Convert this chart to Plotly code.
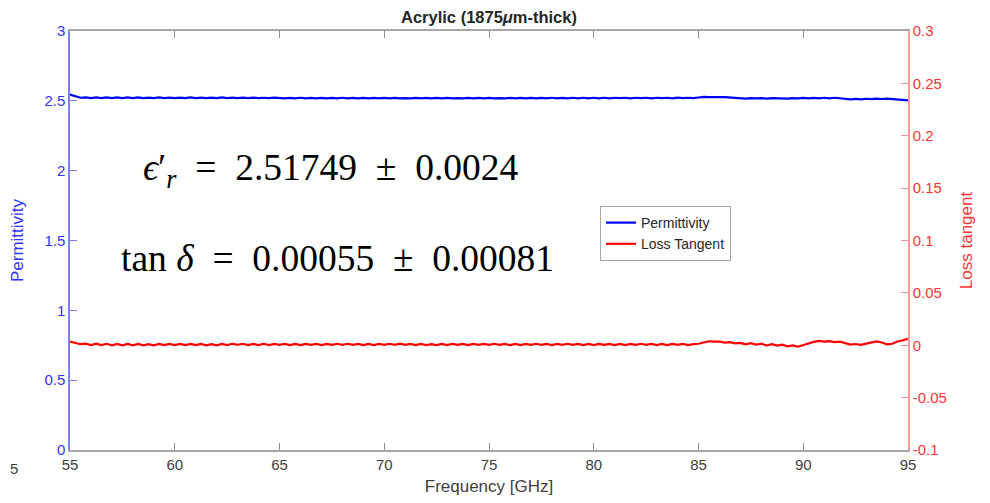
import plotly.graph_objects as go

# ---- data ----
freq_start = 55.0
freq_step = 0.25

permittivity = [
    2.545, 2.532, 2.522,
    # 55.75 .. 64.75
    2.525, 2.520, 2.524, 2.519, 2.525, 2.520, 2.524, 2.520, 2.524, 2.519,
    2.524, 2.520, 2.523, 2.519, 2.524, 2.520, 2.523, 2.519, 2.523, 2.520,
    2.524, 2.519, 2.523, 2.520, 2.523, 2.519, 2.524, 2.520, 2.523, 2.519,
    2.523, 2.520, 2.523, 2.519, 2.522, 2.519, 2.523,
    # 65.0 .. 84.75
    2.521, 2.517, 2.521, 2.518, 2.522, 2.517, 2.521, 2.517, 2.521, 2.518,
    2.521, 2.517, 2.522, 2.517, 2.521, 2.518, 2.521, 2.517, 2.521, 2.517,
    2.521, 2.518, 2.521, 2.517, 2.520, 2.517, 2.521, 2.517, 2.521, 2.518,
    2.521, 2.517, 2.521, 2.517, 2.520, 2.517, 2.521, 2.518, 2.521, 2.517,
    2.521, 2.517, 2.520, 2.517, 2.521, 2.518, 2.521, 2.517, 2.521, 2.517,
    2.521, 2.518, 2.522, 2.517, 2.521, 2.518, 2.522, 2.518, 2.522, 2.518,
    2.522, 2.518, 2.522, 2.518, 2.522, 2.519, 2.522, 2.518, 2.522, 2.519,
    2.522, 2.518, 2.522, 2.519, 2.522, 2.518, 2.523, 2.519, 2.522, 2.519,
    # 85.0 .. 86.75
    2.524, 2.528, 2.526, 2.529, 2.527, 2.526, 2.524, 2.522,
    # 87.0 .. 90.75
    2.520, 2.516, 2.520, 2.517, 2.520, 2.516, 2.520, 2.517,
    2.519, 2.516, 2.520, 2.517, 2.521, 2.517, 2.521, 2.518,
    # 91.0 .. 91.75
    2.522, 2.518, 2.522, 2.519,
    # 92.0 .. 93.75
    2.514, 2.511, 2.514, 2.511, 2.515, 2.512, 2.516, 2.513,
    # 94.0 .. 95.0
    2.516, 2.513, 2.514, 2.508, 2.503,
]

loss_tangent = [
    0.0035, 0.0021, 0.0010,
    # 55.75 .. 64.75
    0.0016, 0.0002, 0.0015, 0.0001, 0.0014, 0.0000, 0.0013, 0.0000, 0.0012, -0.0001,
    0.0012, 0.0000, 0.0011, 0.0000, 0.0012, 0.0001, 0.0012, 0.0001, 0.0013, 0.0002,
    0.0013, 0.0001, 0.0012, 0.0000, 0.0011, 0.0000, 0.0012, 0.0002, 0.0014, 0.0003,
    0.0014, 0.0002, 0.0013, 0.0002, 0.0014, 0.0002, 0.0013,
    # 65.0 .. 84.75
    0.0003, 0.0013, 0.0002, 0.0012, 0.0002, 0.0013, 0.0003, 0.0013, 0.0002, 0.0012,
    0.0003, 0.0014, 0.0004, 0.0014, 0.0003, 0.0013, 0.0002, 0.0012, 0.0002, 0.0013,
    0.0003, 0.0014, 0.0004, 0.0015, 0.0004, 0.0013, 0.0002, 0.0012, 0.0001, 0.0011,
    0.0002, 0.0012, 0.0002, 0.0013, 0.0003, 0.0013, 0.0002, 0.0012, 0.0003, 0.0013,
    0.0003, 0.0014, 0.0003, 0.0013, 0.0002, 0.0012, 0.0002, 0.0013, 0.0003, 0.0014,
    0.0003, 0.0013, 0.0002, 0.0013, 0.0003, 0.0014, 0.0003, 0.0013, 0.0002, 0.0012,
    0.0002, 0.0013, 0.0003, 0.0013, 0.0002, 0.0012, 0.0002, 0.0013, 0.0003, 0.0014,
    0.0003, 0.0013, 0.0002, 0.0012, 0.0002, 0.0013, 0.0003, 0.0013, 0.0002, 0.0011,
    # 85.0 .. 86.75
    0.0014, 0.0026, 0.0038, 0.0034, 0.0036, 0.0026, 0.0029, 0.0018,
    # 87.0 .. 90.75
    0.0022, 0.0008, 0.0020, 0.0006, 0.0014, -0.0002, 0.0010, -0.0004,
    0.0006, -0.0010, -0.0002, -0.0014, 0.0002, 0.0014, 0.0032, 0.0042,
    # 91.0 .. 91.75
    0.0034, 0.0040, 0.0030, 0.0034,
    # 92.0 .. 93.75
    0.0020, 0.0006, 0.0012, 0.0004, 0.0016, 0.0024, 0.0036, 0.0026,
    # 94.0 .. 95.0
    0.0008, 0.0014, 0.0036, 0.0048, 0.0062,
]

frequency = [freq_start + freq_step * i for i in range(len(permittivity))]

x_ticks = [55, 60, 65, 70, 75, 80, 85, 90, 95]
left_ticks = [0, 0.5, 1, 1.5, 2, 2.5, 3]
left_ticklabels = ["0", "0.5", "1", "1.5", "2", "2.5", "3"]
right_ticks = [-0.1, -0.05, 0, 0.05, 0.1, 0.15, 0.2, 0.25, 0.3]
right_ticklabels = ["-0.1", "-0.05", "0", "0.05", "0.1", "0.15", "0.2", "0.25", "0.3"]

BLUE = "#0000ff"
RED = "#ff0000"
AXFONT = "Liberation Sans, Arial, sans-serif"

fig = go.Figure()
fig.add_trace(go.Scatter(x=frequency, y=permittivity, mode="lines",
                         name="Permittivity", line=dict(color=BLUE, width=2.2)))
fig.add_trace(go.Scatter(x=frequency, y=loss_tangent, mode="lines",
                         name="Loss Tangent", line=dict(color=RED, width=2.2),
                         yaxis="y2"))

fig.update_layout(
    width=990, height=503,
    margin=dict(l=62, r=90, t=23, b=61),
    paper_bgcolor="white", plot_bgcolor="white",
    font=dict(family=AXFONT, size=14, color="#404040"),
    title=dict(text="<b>Acrylic (1875<i>μ</i>m-thick)</b>",
               x=481 / 990, xanchor="center", y=1 - 9 / 503, yanchor="middle",
               font=dict(size=16.5, color="#262626", family=AXFONT)),
    xaxis=dict(range=[55, 95], tickvals=x_ticks, ticks="inside", ticklen=7,
               tickcolor="#8c8c8c", showline=True, linecolor="#a6a6a6", linewidth=1.5,
               mirror="ticks", showgrid=False, zeroline=False, automargin=False,
               tickfont=dict(size=15, color="#404040"),
               title=dict(text="Frequency [GHz]", standoff=8,
                          font=dict(size=17, color="#404040"))),
    yaxis=dict(range=[0, 3], tickvals=left_ticks, ticktext=left_ticklabels,
               ticks="inside", ticklen=7, tickcolor="#7b7bff",
               showline=True, linecolor="#8080ff", linewidth=1.5,
               showgrid=False, zeroline=False, automargin=False,
               tickfont=dict(size=15, color="#3333ff"),
               title=dict(text="Permittivity", standoff=17,
                          font=dict(size=17, color="#3333ff"))),
    yaxis2=dict(range=[-0.1, 0.3], tickvals=right_ticks, ticktext=right_ticklabels,
                overlaying="y", side="right",
                ticks="inside", ticklen=7, tickcolor="#ff8c8c",
                showline=True, linecolor="#ff9999", linewidth=1.5,
                showgrid=False, zeroline=False, automargin=False,
                tickfont=dict(size=15, color="#ff3333"),
                title=dict(text="Loss tangent", standoff=14,
                           font=dict(size=17, color="#ff3333"))),
    legend=dict(x=(600 - 70) / 838, y=(450 - 206) / 419, xanchor="left", yanchor="top",
                bgcolor="white", bordercolor="#a6a6a6", borderwidth=1,
                font=dict(size=14, color="#262626", family=AXFONT),
                tracegroupgap=0, itemwidth=30),
    showlegend=True,
)

SP = "\u2002"
eq_font = dict(family="Liberation Serif, DejaVu Serif, serif", size=37.5, color="#000000")
fig.add_annotation(xref="paper", yref="paper",
                   x=(331 - 70) / 838, y=(450 - 170) / 419,
                   text=f"<i>ϵ</i>′<sub><i>r</i></sub>{SP}={SP}2.51749{SP}±{SP}0.0024",
                   showarrow=False, font=eq_font, xanchor="center", yanchor="middle")
fig.add_annotation(xref="paper", yref="paper",
                   x=(337 - 70) / 838, y=(450 - 258) / 419,
                   text=f"tan <i>δ</i>{SP}={SP}0.00055{SP}±{SP}0.00081",
                   showarrow=False, font=eq_font, xanchor="center", yanchor="middle")
# stray label at the left edge of the reference image
fig.add_annotation(xref="paper", yref="paper", x=-62 / 838, y=(450 - 468) / 419,
                   text="5", showarrow=False, xanchor="left", yanchor="middle",
                   font=dict(size=15, color="#404040"))

fig.write_html("out.html")
